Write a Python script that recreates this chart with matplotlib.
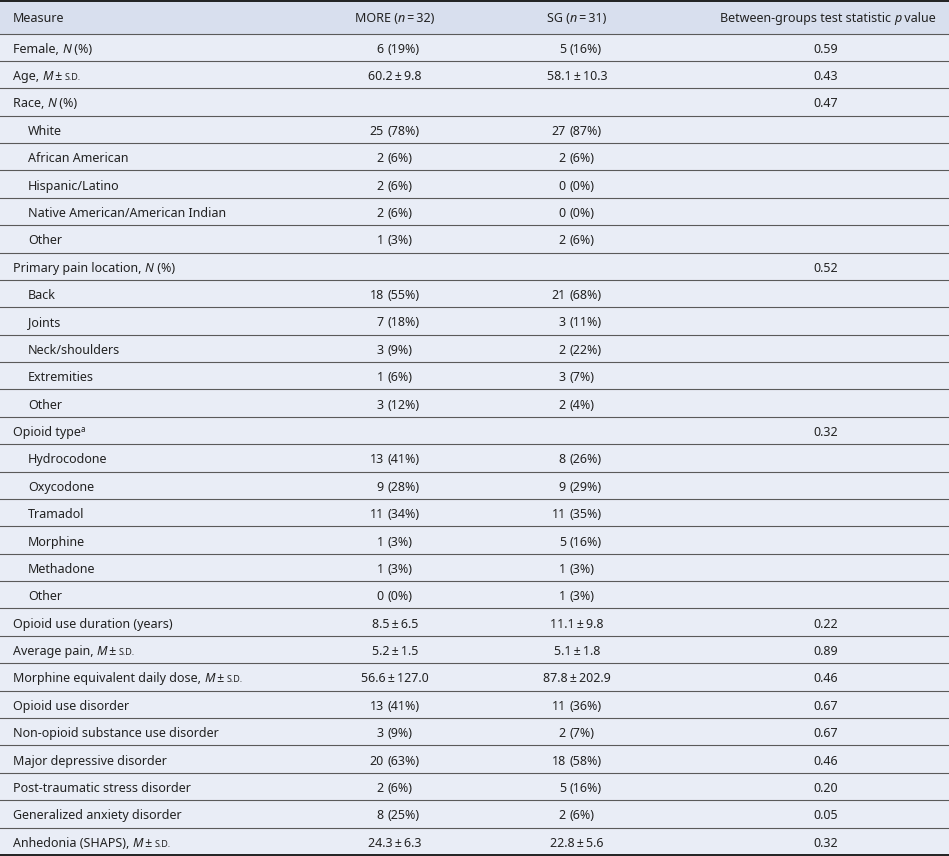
import re

import matplotlib
matplotlib.use("Agg")
import matplotlib.pyplot as plt
from matplotlib.patches import Rectangle

# table content --------------------------------------------------------------
header = ["Measure", "MORE (*n*\u2009=\u200932)", "SG (*n*\u2009=\u200931)",
          "Between-groups test statistic *p* value"]

measures = [
    "Female, *N* (%)", "Age, *M*\u2009±\u2009~s.d.~", "Race, *N* (%)",
    "White", "African American", "Hispanic/Latino",
    "Native American/American Indian", "Other",
    "Primary pain location, *N* (%)",
    "Back", "Joints", "Neck/shoulders", "Extremities", "Other",
    "Opioid type^a^",
    "Hydrocodone", "Oxycodone", "Tramadol", "Morphine", "Methadone", "Other",
    "Opioid use duration (years)", "Average pain, *M*\u2009±\u2009~s.d.~",
    "Morphine equivalent daily dose, *M*\u2009±\u2009~s.d.~",
    "Opioid use disorder", "Non-opioid substance use disorder",
    "Major depressive disorder", "Post-traumatic stress disorder",
    "Generalized anxiety disorder", "Anhedonia (SHAPS), *M*\u2009±\u2009~s.d.~",
]
indented = [0, 0, 0, 1, 1, 1, 1, 1, 0, 1, 1, 1, 1, 1, 0,
            1, 1, 1, 1, 1, 1, 0, 0, 0, 0, 0, 0, 0, 0, 0]

more = ["6 (19%)", "60.2 ± 9.8", "", "25 (78%)", "2 (6%)", "2 (6%)", "2 (6%)",
        "1 (3%)", "", "18 (55%)", "7 (18%)", "3 (9%)", "1 (6%)", "3 (12%)", "",
        "13 (41%)", "9 (28%)", "11 (34%)", "1 (3%)", "1 (3%)", "0 (0%)",
        "8.5 ± 6.5", "5.2 ± 1.5", "56.6 ± 127.0", "13 (41%)", "3 (9%)",
        "20 (63%)", "2 (6%)", "8 (25%)", "24.3 ± 6.3"]
sg = ["5 (16%)", "58.1 ± 10.3", "", "27 (87%)", "2 (6%)", "0 (0%)", "0 (0%)",
      "2 (6%)", "", "21 (68%)", "3 (11%)", "2 (22%)", "3 (7%)", "2 (4%)", "",
      "8 (26%)", "9 (29%)", "11 (35%)", "5 (16%)", "1 (3%)", "1 (3%)",
      "11.1 ± 9.8", "5.1 ± 1.8", "87.8 ± 202.9", "11 (36%)", "2 (7%)",
      "18 (58%)", "5 (16%)", "2 (6%)", "22.8 ± 5.6"]
pvals = ["0.59", "0.43", "0.47", "", "", "", "", "", "0.52", "", "", "", "",
         "", "0.32", "", "", "", "", "", "", "0.22", "0.89", "0.46", "0.67",
         "0.67", "0.46", "0.20", "0.05", "0.32"]

# layout (pixels) ------------------------------------------------------------
W, H = 949, 856
FS = 9.0
INK = "#222222"
BODY = "#E9EDF6"
HEAD = "#D8DFEE"
HEAD_H = 33.5
ROW_H = 27.38
LABEL_X, INDENT_X = 13, 28
MORE_C, SG_C, P_C = 395, 577, 826
MORE_N, SG_N = 384, 566      # right edge of the count
GAP = 4                      # gap between count and "(pct)"
DROP = 5.5                   # baseline below row centre

plt.rcParams["font.family"] = ["Noto Sans", "DejaVu Sans"]

fig = plt.figure(figsize=(W / 100, H / 100), dpi=100)
ax = fig.add_axes([0, 0, 1, 1])
ax.set_xlim(0, W)
ax.set_ylim(H, 0)
ax.axis("off")
renderer = fig.canvas.get_renderer()


def parse(markup):
    parts = []
    for tok in re.split(r"(\*[^*]+\*|~[^~]+~|\^[^^]+\^)", markup):
        if not tok:
            continue
        if tok[0] == "*":
            parts.append((tok[1:-1], "italic"))
        elif tok[0] == "~":
            parts.append((tok[1:-1].upper(), "smallcaps"))
        elif tok[0] == "^":
            parts.append((tok[1:-1], "sup"))
        else:
            parts.append((tok, "normal"))
    return parts


def style_kw(style):
    if style == "italic":
        return dict(fontsize=FS, fontstyle="italic")
    if style == "smallcaps":
        return dict(fontsize=FS * 0.72)
    if style == "sup":
        return dict(fontsize=FS * 0.65)
    return dict(fontsize=FS)


def width(s, kw):
    # measure with a bar appended so trailing spaces count
    t = ax.text(0, 0, s + "|", **kw)
    b = ax.text(0, 0, "|", **kw)
    w = t.get_window_extent(renderer).width - b.get_window_extent(renderer).width
    t.remove(); b.remove()
    return w


def draw(x, yc, markup, ha="left"):
    parts = parse(markup)
    widths = [width(s, style_kw(st)) for s, st in parts]
    total = sum(widths)
    if ha == "center":
        x -= total / 2
    elif ha == "right":
        x -= total
    base = yc + DROP
    for (s, st), w in zip(parts, widths):
        y = base - 4.5 if st == "sup" else base
        ax.text(x, y, s, color=INK, va="baseline", ha="left", **style_kw(st))
        x += w


def draw_value(yc, val, centre, num_right):
    if not val:
        return
    if "(" in val:
        num, pct = val.split(" (")
        ax.text(num_right, yc + DROP, num, fontsize=FS, color=INK,
                ha="right", va="baseline")
        ax.text(num_right + GAP, yc + DROP, "(" + pct, fontsize=FS, color=INK,
                ha="left", va="baseline")
    else:
        draw(centre, yc, val.replace(" ± ", "\u2009±\u2009"), ha="center")


# backgrounds
ax.add_patch(Rectangle((0, 0), W, H, color=BODY, lw=0, zorder=0))
ax.add_patch(Rectangle((0, 0), W, HEAD_H, color=HEAD, lw=0, zorder=0))

# header
yc = HEAD_H / 2
draw(LABEL_X, yc, header[0])
draw(MORE_C, yc, header[1], ha="center")
draw(SG_C, yc, header[2], ha="center")
draw(P_C + 2, yc, header[3], ha="center")

# rows
for i, m in enumerate(measures):
    top = HEAD_H + i * ROW_H
    yc = top + ROW_H / 2
    draw(INDENT_X if indented[i] else LABEL_X, yc, m)
    draw_value(yc, more[i], MORE_C, MORE_N)
    draw_value(yc, sg[i], SG_C, SG_N)
    if pvals[i]:
        ax.text(P_C, yc + DROP, pvals[i], fontsize=FS, color=INK,
                ha="center", va="baseline")

# rules
for i in range(len(measures)):
    ax.axhline(HEAD_H + i * ROW_H, color="#5a5a5a", lw=0.8)
ax.axhline(0.8, color="#111111", lw=1.3)
ax.axhline(HEAD_H + len(measures) * ROW_H, color="#111111", lw=1.3)

fig.savefig("out.png", dpi=100)
